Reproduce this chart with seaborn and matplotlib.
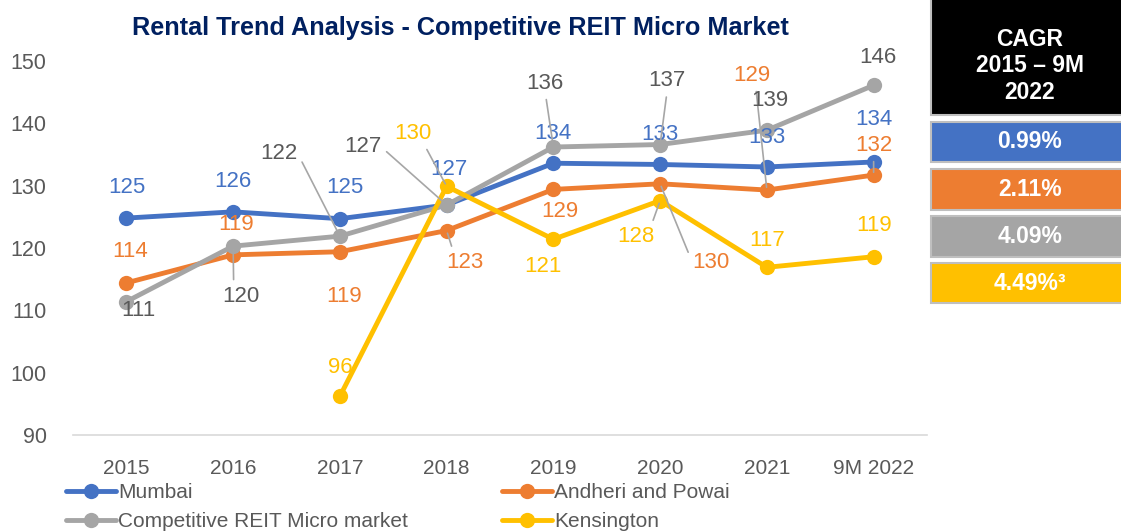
import seaborn as sns
import pandas as pd
import numpy as np
from matplotlib import pyplot as plt
from matplotlib.patches import Rectangle

years = ['2015', '2016', '2017', '2018', '2019', '2020', '2021', '9M 2022']
mumbai = [124.8, 125.8, 124.7, 126.9, 133.6, 133.4, 133.0, 133.8]
andheri = [114.4, 118.9, 119.4, 122.8, 129.4, 130.3, 129.3, 131.7]
competitive = [111.4, 120.3, 121.9, 126.9, 136.2, 136.6, 138.9, 146.1]
kensington = [np.nan, np.nan, 96.2, 129.9, 121.4, 127.6, 116.9, 118.6]
series_names = ['Mumbai', 'Andheri and Powai', 'Competitive REIT Micro market', 'Kensington']
cagr = ['0.99%', '2.11%', '4.09%', '4.49%³']

colors = ['#4472C4', '#ED7D31', '#A5A5A5', '#FFC000']
label_colors = ['#4472C4', '#ED7D31', '#595959', '#FFC000']

# label offsets in pixels (dx, dy, leader attach point or None)
offsets = {
    'Mumbai': [(0, 31, None), (0, 30, None), (5, 31, None), (2, 35, None), (0, 30, None), (0, 30, None), (0, 29, None), (0, 42, None)],
    'Andheri and Powai': [(4, 31, None), (3, 30, None), (4, -45, None), (18, -32, (0.2, 1)), (6, -22, None),
                          (51, -79, (0, 0.5)), (-15, 115, (0.6, 0)), (0, 30, (0.5, 0))],
    'Competitive REIT Micro market': [(12, -9, None), (8, -50, (0.3, 1)), (-61, 83, (1, 0.5)), (-84, 58, (1, 0.5)),
                                      (-8, 64, (0.5, 0)), (7, 64, (0.5, 0)), (3, 30, None), (4, 28, None)],
    'Kensington': [None, None, (0, 29, None), (-34, 53, (0.8, 0)), (-10, -27, None), (-24, -36, (0.9, 1)),
                   (0, 27, None), (0, 31, None)],
}

rows = []
for name, vals in zip(series_names, [mumbai, andheri, competitive, kensington]):
    for y, v in zip(years, vals):
        rows.append({'year': y, 'rent': v, 'series': name})
df = pd.DataFrame(rows)

sns.set_style('white')
plt.rcParams['font.family'] = ['Liberation Sans', 'DejaVu Sans']

W, H = 1121, 531
fig = plt.figure(figsize=(W / 100, H / 100), dpi=100)
ax = fig.add_axes([73 / W, 1 - 435 / H, (927 - 73) / W, (435 - 61) / H])

sns.lineplot(
    data=df.dropna(),
    x='year',
    y='rent',
    hue='series',
    hue_order=series_names,
    palette=colors,
    marker='o',
    markersize=11,
    markeredgewidth=0,
    linewidth=3.5,
    sort=False,
    ax=ax
)

ax.set_xlim(-0.5, 7.5)
ax.set_ylim(90, 150)
ax.set_yticks(range(90, 151, 10))
ax.set_xlabel('')
ax.set_ylabel('')
for s in ['top', 'right', 'left']:
    ax.spines[s].set_visible(False)
ax.spines['bottom'].set_color('#d9d9d9')
ax.spines['bottom'].set_linewidth(1.2)
ax.tick_params(axis='x', length=0, pad=17, labelsize=15, labelcolor='#595959')
ax.tick_params(axis='y', length=0, pad=19, labelsize=15.5, labelcolor='#595959')

# data labels
for name, vals, lc in zip(series_names, [mumbai, andheri, competitive, kensington], label_colors):
    for i, v in enumerate(vals):
        off = offsets[name][i]
        if off is None or np.isnan(v):
            continue
        dx, dy, rel = off
        arrow = None
        if rel is not None:
            arrow = dict(arrowstyle='-', color='#a6a6a6', lw=1.2, shrinkA=2, shrinkB=2, relpos=rel)
        ax.annotate(str(int(round(v))), xy=(i, v), xytext=(dx, dy), textcoords='offset pixels',
                    ha='center', va='center', fontsize=16, color=lc,
                    arrowprops=arrow, annotation_clip=False)

ax.set_title('Rental Trend Analysis - Competitive REIT Micro Market', fontsize=18.2,
             fontweight='bold', color='#002060', x=(460 - 73) / (927 - 73), y=1.0, pad=19)

# legend below the plot
handles, labels = ax.get_legend_handles_labels()
ax.get_legend().remove()
order = [0, 2, 1, 3]
fig.legend([handles[k] for k in order], [labels[k] for k in order],
           loc='upper left', bbox_to_anchor=(56 / W, 1 - 473 / H), ncol=2, frameon=False,
           fontsize=15, labelcolor='#595959', handlelength=2.4, handletextpad=0.1,
           columnspacing=4.5, labelspacing=0.45, borderpad=0)

# CAGR table on the right
def px_rect(x0, y0, x1, y1, color):
    fig.add_artist(Rectangle((x0 / W, 1 - y1 / H), (x1 - x0) / W, (y1 - y0) / H,
                             transform=fig.transFigure, facecolor=color,
                             edgecolor='#bfbfbf', linewidth=1.5))

px_rect(931, -2, 1125, 115, '#000000')
fig.text(1030 / W, 1 - 66 / H, 'CAGR\n2015 – 9M\n2022', ha='center', va='center',
         color='white', fontsize=16.5, fontweight='bold', linespacing=1.2)
box_rows = [(122, 162), (169, 210), (216, 257), (263, 303)]
for (y0, y1), c, txt in zip(box_rows, colors, cagr):
    px_rect(931, y0, 1125, y1, c)
    fig.text(1030 / W, 1 - (y0 + y1) / 2 / H, txt, ha='center', va='center',
             color='white', fontsize=16.5, fontweight='bold')

fig.savefig('out.png', dpi=100)
